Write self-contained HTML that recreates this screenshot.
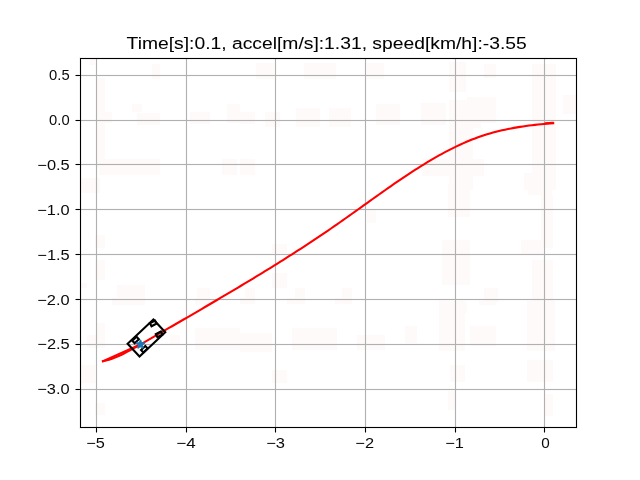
<!DOCTYPE html>
<html><head><meta charset="utf-8"><style>
html,body{margin:0;padding:0;background:#fff;}
svg{display:block;will-change:transform;}
text{font-family:"Liberation Sans",sans-serif;}
</style></head><body>
<svg width="640" height="480" viewBox="0 0 640 480">
<rect x="0" y="0" width="640" height="480" fill="#fff"/>
<g fill="#fffafa" shape-rendering="crispEdges"><rect x="96" y="78" width="9" height="90"/><rect x="152" y="64" width="8" height="15"/><rect x="132" y="104" width="10" height="8"/><rect x="105" y="112" width="7" height="11"/><rect x="137" y="113" width="23" height="12"/><rect x="190" y="112" width="20" height="12"/><rect x="227" y="104" width="13" height="19"/><rect x="99" y="159" width="61" height="16"/><rect x="222" y="159" width="15" height="16"/><rect x="90" y="59" width="5" height="6"/><rect x="256" y="63" width="18" height="16"/><rect x="304" y="63" width="32" height="16"/><rect x="367" y="63" width="17" height="16"/><rect x="240" y="112" width="15" height="12"/><rect x="265" y="112" width="15" height="15"/><rect x="296" y="108" width="24" height="19"/><rect x="329" y="108" width="22" height="19"/><rect x="376" y="104" width="24" height="21"/><rect x="240" y="159" width="15" height="16"/><rect x="449" y="62" width="17" height="30"/><rect x="449" y="100" width="32" height="28"/><rect x="449" y="128" width="24" height="62"/><rect x="532" y="64" width="24" height="126"/><rect x="563" y="95" width="13" height="19"/><rect x="484" y="64" width="12" height="14"/><rect x="421" y="103" width="25" height="22"/><rect x="467" y="97" width="29" height="26"/><rect x="422" y="159" width="62" height="17"/><rect x="524" y="173" width="17" height="17"/><rect x="81" y="178" width="19" height="15"/><rect x="95" y="235" width="10" height="13"/><rect x="95" y="260" width="10" height="20"/><rect x="117" y="285" width="28" height="13"/><rect x="197" y="288" width="13" height="10"/><rect x="81" y="283" width="6" height="5"/><rect x="367" y="210" width="9" height="13"/><rect x="272" y="244" width="15" height="9"/><rect x="272" y="273" width="15" height="15"/><rect x="245" y="288" width="10" height="10"/><rect x="295" y="288" width="10" height="10"/><rect x="342" y="288" width="10" height="10"/><rect x="448" y="184" width="22" height="33"/><rect x="442" y="240" width="28" height="45"/><rect x="453" y="302" width="14" height="11"/><rect x="528" y="178" width="24" height="17"/><rect x="541" y="195" width="12" height="53"/><rect x="521" y="240" width="22" height="14"/><rect x="532" y="260" width="21" height="53"/><rect x="484" y="288" width="14" height="14"/><rect x="112" y="298" width="33" height="7"/><rect x="195" y="298" width="15" height="7"/><rect x="97" y="323" width="8" height="20"/><rect x="87" y="335" width="18" height="13"/><rect x="170" y="335" width="10" height="10"/><rect x="195" y="328" width="45" height="22"/><rect x="81" y="365" width="14" height="18"/><rect x="95" y="403" width="10" height="12"/><rect x="240" y="298" width="15" height="6"/><rect x="287" y="298" width="18" height="6"/><rect x="335" y="298" width="17" height="6"/><rect x="240" y="333" width="32" height="19"/><rect x="292" y="328" width="45" height="22"/><rect x="357" y="335" width="28" height="15"/><rect x="272" y="370" width="15" height="13"/><rect x="439" y="301" width="26" height="50"/><rect x="450" y="365" width="15" height="17"/><rect x="448" y="391" width="7" height="19"/><rect x="527" y="301" width="28" height="50"/><rect x="527" y="360" width="26" height="22"/><rect x="545" y="394" width="8" height="22"/><rect x="405" y="326" width="12" height="17"/><rect x="470" y="326" width="26" height="20"/><rect x="479" y="301" width="17" height="4"/></g>
<g shape-rendering="crispEdges">
<rect x="96" y="59" width="1" height="368" fill="#b0b0b0"/>
<rect x="95" y="59" width="1" height="368" fill="#b0b0b0" fill-opacity="0.063"/>
<rect x="97" y="59" width="1" height="368" fill="#b0b0b0" fill-opacity="0.063"/>
<rect x="186" y="59" width="1" height="368" fill="#b0b0b0"/>
<rect x="185" y="59" width="1" height="368" fill="#b0b0b0" fill-opacity="0.063"/>
<rect x="187" y="59" width="1" height="368" fill="#b0b0b0" fill-opacity="0.063"/>
<rect x="275" y="59" width="1" height="368" fill="#b0b0b0"/>
<rect x="274" y="59" width="1" height="368" fill="#b0b0b0" fill-opacity="0.063"/>
<rect x="276" y="59" width="1" height="368" fill="#b0b0b0" fill-opacity="0.063"/>
<rect x="365" y="59" width="1" height="368" fill="#b0b0b0"/>
<rect x="364" y="59" width="1" height="368" fill="#b0b0b0" fill-opacity="0.063"/>
<rect x="366" y="59" width="1" height="368" fill="#b0b0b0" fill-opacity="0.063"/>
<rect x="455" y="59" width="1" height="368" fill="#b0b0b0"/>
<rect x="454" y="59" width="1" height="368" fill="#b0b0b0" fill-opacity="0.063"/>
<rect x="456" y="59" width="1" height="368" fill="#b0b0b0" fill-opacity="0.063"/>
<rect x="544" y="59" width="1" height="368" fill="#b0b0b0"/>
<rect x="543" y="59" width="1" height="368" fill="#b0b0b0" fill-opacity="0.063"/>
<rect x="545" y="59" width="1" height="368" fill="#b0b0b0" fill-opacity="0.063"/>
<rect x="81" y="75" width="495" height="1" fill="#b0b0b0"/>
<rect x="81" y="74" width="495" height="1" fill="#b0b0b0" fill-opacity="0.063"/>
<rect x="81" y="76" width="495" height="1" fill="#b0b0b0" fill-opacity="0.063"/>
<rect x="81" y="120" width="495" height="1" fill="#b0b0b0"/>
<rect x="81" y="119" width="495" height="1" fill="#b0b0b0" fill-opacity="0.063"/>
<rect x="81" y="121" width="495" height="1" fill="#b0b0b0" fill-opacity="0.063"/>
<rect x="81" y="164" width="495" height="1" fill="#b0b0b0"/>
<rect x="81" y="163" width="495" height="1" fill="#b0b0b0" fill-opacity="0.063"/>
<rect x="81" y="165" width="495" height="1" fill="#b0b0b0" fill-opacity="0.063"/>
<rect x="81" y="209" width="495" height="1" fill="#b0b0b0"/>
<rect x="81" y="208" width="495" height="1" fill="#b0b0b0" fill-opacity="0.063"/>
<rect x="81" y="210" width="495" height="1" fill="#b0b0b0" fill-opacity="0.063"/>
<rect x="81" y="254" width="495" height="1" fill="#b0b0b0"/>
<rect x="81" y="253" width="495" height="1" fill="#b0b0b0" fill-opacity="0.063"/>
<rect x="81" y="255" width="495" height="1" fill="#b0b0b0" fill-opacity="0.063"/>
<rect x="81" y="299" width="495" height="1" fill="#b0b0b0"/>
<rect x="81" y="298" width="495" height="1" fill="#b0b0b0" fill-opacity="0.063"/>
<rect x="81" y="300" width="495" height="1" fill="#b0b0b0" fill-opacity="0.063"/>
<rect x="81" y="344" width="495" height="1" fill="#b0b0b0"/>
<rect x="81" y="343" width="495" height="1" fill="#b0b0b0" fill-opacity="0.063"/>
<rect x="81" y="345" width="495" height="1" fill="#b0b0b0" fill-opacity="0.063"/>
<rect x="81" y="389" width="495" height="1" fill="#b0b0b0"/>
<rect x="81" y="388" width="495" height="1" fill="#b0b0b0" fill-opacity="0.063"/>
<rect x="81" y="390" width="495" height="1" fill="#b0b0b0" fill-opacity="0.063"/>
</g>
<g fill="none" stroke="#ff0000" stroke-width="2.083" stroke-linecap="square" stroke-linejoin="round">
<polyline points="103.00,361.23 106.00,360.55 109.00,359.70 112.00,358.70 115.00,357.57 118.00,356.31 121.00,354.94 124.00,353.48 127.00,351.94 130.00,350.33 133.00,348.68 136.00,346.98 139.00,345.27 142.00,343.54 145.00,341.82 148.00,340.09 151.00,338.36 154.00,336.63 157.00,334.90 160.00,333.17 163.00,331.44 166.00,329.71 169.00,327.97 172.00,326.23 175.00,324.49 178.00,322.75 181.00,321.01 184.00,319.27 187.00,317.53 190.00,315.78 193.00,314.03 196.00,312.28 199.00,310.53 202.00,308.78 205.00,307.02 208.00,305.27 211.00,303.51 214.00,301.75 217.00,299.99 220.00,298.22 223.00,296.45 226.00,294.68 229.00,292.90 232.00,291.12 235.00,289.34 238.00,287.55 241.00,285.76 244.00,283.96 247.00,282.16 250.00,280.35 253.00,278.54 256.00,276.72 259.00,274.89 262.00,273.06 265.00,271.22 268.00,269.37 271.00,267.52 274.00,265.66 277.00,263.79 280.00,261.91 283.00,260.02 286.00,258.13 289.00,256.22 292.00,254.31 295.00,252.39 298.00,250.46 301.00,248.52 304.00,246.56 307.00,244.60 310.00,242.63 313.00,240.64 316.00,238.65 319.00,236.64 322.00,234.62 325.00,232.59 328.00,230.55 331.00,228.49 334.00,226.42 337.00,224.34 340.00,222.24 343.00,220.14 346.00,218.02 349.00,215.89 352.00,213.76 355.00,211.62 358.00,209.48 361.00,207.34 364.00,205.19 367.00,203.04 370.00,200.90 373.00,198.76 376.00,196.62 379.00,194.49 382.00,192.37 385.00,190.26 388.00,188.15 391.00,186.06 394.00,183.98 397.00,181.92 400.00,179.88 403.00,177.85 406.00,175.84 409.00,173.85 412.00,171.89 415.00,169.95 418.00,168.03 421.00,166.14 424.00,164.28 427.00,162.45 430.00,160.65 433.00,158.89 436.00,157.15 439.00,155.46 442.00,153.80 445.00,152.18 448.00,150.60 451.00,149.06 454.00,147.56 457.00,146.11 460.00,144.71 463.00,143.35 466.00,142.04 469.00,140.78 472.00,139.58 475.00,138.42 478.00,137.33 481.00,136.28 484.00,135.29 487.00,134.35 490.00,133.45 493.00,132.61 496.00,131.81 499.00,131.05 502.00,130.34 505.00,129.66 508.00,129.03 511.00,128.44 514.00,127.88 517.00,127.36 520.00,126.87 523.00,126.41 526.00,125.99 529.00,125.59 532.00,125.22 535.00,124.88 538.00,124.56 541.00,124.26 544.00,123.99 547.00,123.73 550.00,123.50 553.20,123.26"/>
<polyline points="103.00,361.23 140.45,344.45"/>
<polyline points="545.5,123.2 553.1,122.75" stroke-linecap="round"/>
</g>
<g fill="none" stroke="#000" stroke-width="2.083" stroke-linejoin="miter">
<polygon points="153.40,319.59 127.62,343.71 139.51,356.41 165.28,332.29"/>
<polygon points="136.56,336.71 132.32,340.68 134.64,343.16 138.88,339.20"/><polygon points="155.04,320.54 149.92,323.27 151.52,326.27 156.64,323.54"/><polygon points="145.30,346.06 141.07,350.02 143.39,352.51 147.62,348.54"/><polygon points="160.88,331.48 155.76,334.21 157.36,337.21 162.48,334.48"/>
</g>
<polygon points="140.45,339.90 139.43,343.04 136.12,343.04 138.80,344.99 137.78,348.13 140.45,346.19 143.12,348.13 142.10,344.99 144.78,343.04 141.47,343.04" fill="#1f77b4" stroke="#1f77b4" stroke-width="1.389" stroke-linejoin="bevel"/>
<g shape-rendering="crispEdges">
<rect x="80" y="58" width="1" height="370" fill="#000"/>
<rect x="576" y="58" width="1" height="370" fill="#000"/>
<rect x="81" y="58" width="495" height="1" fill="#000"/>
<rect x="81" y="427" width="495" height="1" fill="#000"/>
<rect x="79" y="57" width="1" height="372" fill="#000" fill-opacity="0.055"/>
<rect x="81" y="59" width="1" height="368" fill="#000" fill-opacity="0.055"/>
<rect x="575" y="59" width="1" height="368" fill="#000" fill-opacity="0.055"/>
<rect x="577" y="57" width="1" height="372" fill="#000" fill-opacity="0.055"/>
<rect x="80" y="57" width="497" height="1" fill="#000" fill-opacity="0.055"/>
<rect x="80" y="428" width="497" height="1" fill="#000" fill-opacity="0.055"/>
<rect x="82" y="59" width="493" height="1" fill="#000" fill-opacity="0.055"/>
<rect x="82" y="426" width="493" height="1" fill="#000" fill-opacity="0.055"/>
<rect x="96" y="428" width="1" height="4" fill="#000"/>
<rect x="96" y="432" width="1" height="1" fill="#000" fill-opacity="0.5"/>
<rect x="95" y="429" width="1" height="3" fill="#000" fill-opacity="0.055"/>
<rect x="97" y="429" width="1" height="3" fill="#000" fill-opacity="0.055"/>
<rect x="186" y="428" width="1" height="4" fill="#000"/>
<rect x="186" y="432" width="1" height="1" fill="#000" fill-opacity="0.5"/>
<rect x="185" y="429" width="1" height="3" fill="#000" fill-opacity="0.055"/>
<rect x="187" y="429" width="1" height="3" fill="#000" fill-opacity="0.055"/>
<rect x="275" y="428" width="1" height="4" fill="#000"/>
<rect x="275" y="432" width="1" height="1" fill="#000" fill-opacity="0.5"/>
<rect x="274" y="429" width="1" height="3" fill="#000" fill-opacity="0.055"/>
<rect x="276" y="429" width="1" height="3" fill="#000" fill-opacity="0.055"/>
<rect x="365" y="428" width="1" height="4" fill="#000"/>
<rect x="365" y="432" width="1" height="1" fill="#000" fill-opacity="0.5"/>
<rect x="364" y="429" width="1" height="3" fill="#000" fill-opacity="0.055"/>
<rect x="366" y="429" width="1" height="3" fill="#000" fill-opacity="0.055"/>
<rect x="455" y="428" width="1" height="4" fill="#000"/>
<rect x="455" y="432" width="1" height="1" fill="#000" fill-opacity="0.5"/>
<rect x="454" y="429" width="1" height="3" fill="#000" fill-opacity="0.055"/>
<rect x="456" y="429" width="1" height="3" fill="#000" fill-opacity="0.055"/>
<rect x="544" y="428" width="1" height="4" fill="#000"/>
<rect x="544" y="432" width="1" height="1" fill="#000" fill-opacity="0.5"/>
<rect x="543" y="429" width="1" height="3" fill="#000" fill-opacity="0.055"/>
<rect x="545" y="429" width="1" height="3" fill="#000" fill-opacity="0.055"/>
<rect x="76" y="75" width="4" height="1" fill="#000"/>
<rect x="75" y="75" width="1" height="1" fill="#000" fill-opacity="0.5"/>
<rect x="76" y="74" width="3" height="1" fill="#000" fill-opacity="0.055"/>
<rect x="76" y="76" width="3" height="1" fill="#000" fill-opacity="0.055"/>
<rect x="76" y="120" width="4" height="1" fill="#000"/>
<rect x="75" y="120" width="1" height="1" fill="#000" fill-opacity="0.5"/>
<rect x="76" y="119" width="3" height="1" fill="#000" fill-opacity="0.055"/>
<rect x="76" y="121" width="3" height="1" fill="#000" fill-opacity="0.055"/>
<rect x="76" y="164" width="4" height="1" fill="#000"/>
<rect x="75" y="164" width="1" height="1" fill="#000" fill-opacity="0.5"/>
<rect x="76" y="163" width="3" height="1" fill="#000" fill-opacity="0.055"/>
<rect x="76" y="165" width="3" height="1" fill="#000" fill-opacity="0.055"/>
<rect x="76" y="209" width="4" height="1" fill="#000"/>
<rect x="75" y="209" width="1" height="1" fill="#000" fill-opacity="0.5"/>
<rect x="76" y="208" width="3" height="1" fill="#000" fill-opacity="0.055"/>
<rect x="76" y="210" width="3" height="1" fill="#000" fill-opacity="0.055"/>
<rect x="76" y="254" width="4" height="1" fill="#000"/>
<rect x="75" y="254" width="1" height="1" fill="#000" fill-opacity="0.5"/>
<rect x="76" y="253" width="3" height="1" fill="#000" fill-opacity="0.055"/>
<rect x="76" y="255" width="3" height="1" fill="#000" fill-opacity="0.055"/>
<rect x="76" y="299" width="4" height="1" fill="#000"/>
<rect x="75" y="299" width="1" height="1" fill="#000" fill-opacity="0.5"/>
<rect x="76" y="298" width="3" height="1" fill="#000" fill-opacity="0.055"/>
<rect x="76" y="300" width="3" height="1" fill="#000" fill-opacity="0.055"/>
<rect x="76" y="344" width="4" height="1" fill="#000"/>
<rect x="75" y="344" width="1" height="1" fill="#000" fill-opacity="0.5"/>
<rect x="76" y="343" width="3" height="1" fill="#000" fill-opacity="0.055"/>
<rect x="76" y="345" width="3" height="1" fill="#000" fill-opacity="0.055"/>
<rect x="76" y="389" width="4" height="1" fill="#000"/>
<rect x="75" y="389" width="1" height="1" fill="#000" fill-opacity="0.5"/>
<rect x="76" y="388" width="3" height="1" fill="#000" fill-opacity="0.055"/>
<rect x="76" y="390" width="3" height="1" fill="#000" fill-opacity="0.055"/>
</g>
<g fill="#0a0a0a">
<text transform="translate(86.30 448.00) scale(1.1244 1)" font-size="14.5px">−5</text>
<text transform="translate(176.26 448.00) scale(1.1759 1)" font-size="14.5px">−4</text>
<text transform="translate(266.19 448.00) scale(1.1397 1)" font-size="14.5px">−3</text>
<text transform="translate(355.29 448.00) scale(1.1334 1)" font-size="14.5px">−2</text>
<text transform="translate(445.29 448.00) scale(1.1318 1)" font-size="14.5px">−1</text>
<text transform="translate(541.30 448.00) scale(1.0532 1)" font-size="14.5px">0</text>
<text transform="translate(49.12 80.00) scale(1.0194 1)" font-size="14.5px">0.5</text>
<text transform="translate(49.12 125.00) scale(1.0171 1)" font-size="14.5px">0.0</text>
<text transform="translate(37.29 170.00) scale(1.1337 1)" font-size="14.5px">−0.5</text>
<text transform="translate(37.29 215.00) scale(1.1319 1)" font-size="14.5px">−1.0</text>
<text transform="translate(37.29 260.00) scale(1.1337 1)" font-size="14.5px">−1.5</text>
<text transform="translate(37.29 305.00) scale(1.1319 1)" font-size="14.5px">−2.0</text>
<text transform="translate(37.29 349.00) scale(1.1337 1)" font-size="14.5px">−2.5</text>
<text transform="translate(37.29 394.00) scale(1.1319 1)" font-size="14.5px">−3.0</text>
</g>
<g stroke="#000" stroke-width="0.05">
<text transform="translate(126.57 48.70) scale(1.1155 1)" font-size="17.3px">Time[s]:0.1, accel[m/s]:1.31, speed[km/h]:-3.55</text>
</g>
</svg>
</body></html>
